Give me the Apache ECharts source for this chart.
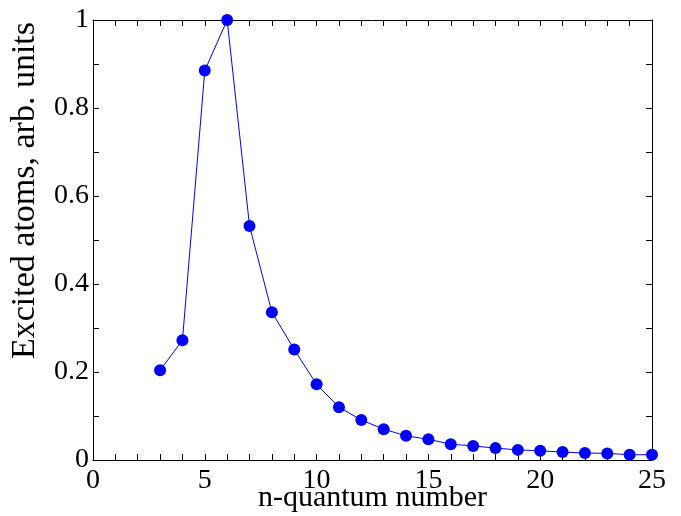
<!DOCTYPE html>
<html>
<head>
<meta charset="utf-8">
<script src="https://cdn.jsdelivr.net/npm/echarts@6/dist/echarts.min.js"></script>
<style>html,body{margin:0;padding:0;background:#fff;}#c{width:681px;height:516px;}</style>
</head>
<body>
<div id="c"></div>
<script>
const nValues = [3,4,5,6,7,8,9,10,11,12,13,14,15,16,17,18,19,20,21,22,23,24,25];
const excited = [0.204,0.272,0.885,1.0,0.532,0.336,0.251,0.172,0.120,0.091,0.070,0.055,0.047,0.036,0.032,0.027,0.023,0.021,0.018,0.016,0.015,0.012,0.012];
const xTitle = 'n-quantum number';
const yTitle = 'Excited atoms, arb. units';

const FONT = 'Liberation Serif';
const chart = echarts.init(document.getElementById('c'), null, {renderer:'canvas'});
const axisLine = {show:true, onZero:false, lineStyle:{color:'#000', width:1}};
const tick = {show:true, inside:true, length:6, lineStyle:{color:'#000', width:1}};
const minor = (n)=>({show:true, splitNumber:n, length:6, lineStyle:{color:'#000', width:1}});
const lbl = {color:'#000', fontFamily:FONT, fontSize:28};
chart.setOption({
  backgroundColor:'#fff',
  animation:false,
  grid:{left:93, right:29, top:20, bottom:56, containLabel:false, outerBoundsMode:'none'},
  xAxis:[
    {type:'value', min:0, max:25, interval:5, position:'bottom',
     axisLine, axisTick:tick, minorTick:minor(5), splitLine:{show:false},
     axisLabel:Object.assign({margin:7}, lbl),
     name:xTitle, nameLocation:'middle', nameGap:23, nameMoveOverlap:false,
     nameTextStyle:{color:'#000', fontFamily:FONT, fontSize:30}},
    {type:'value', min:0, max:25, interval:5, position:'top',
     axisLine, axisTick:tick, minorTick:minor(5), splitLine:{show:false}, axisLabel:{show:false}}
  ],
  yAxis:[
    {type:'value', min:0, max:1, interval:0.2, position:'left',
     axisLine, axisTick:tick, minorTick:minor(2), splitLine:{show:false},
     axisLabel:Object.assign({margin:4, formatter:(v)=> v===0?'0':(v===1?'1':v.toFixed(1))}, lbl),
     name:yTitle, nameLocation:'middle', nameGap:51, nameRotate:90, nameMoveOverlap:false,
     nameTextStyle:{color:'#000', fontFamily:FONT, fontSize:34, padding:[0,0,0,99]}},
    {type:'value', min:0, max:1, interval:0.2, position:'right',
     axisLine, axisTick:tick, minorTick:minor(2), splitLine:{show:false}, axisLabel:{show:false}}
  ],
  series:[{
    type:'line',
    data:nValues.map((n,i)=>[n, excited[i]]),
    symbol:'circle', symbolSize:12,
    lineStyle:{color:'#0000ff', width:1},
    itemStyle:{color:'#0000ff'},
    clip:false
  }]
});
</script>
</body>
</html>
